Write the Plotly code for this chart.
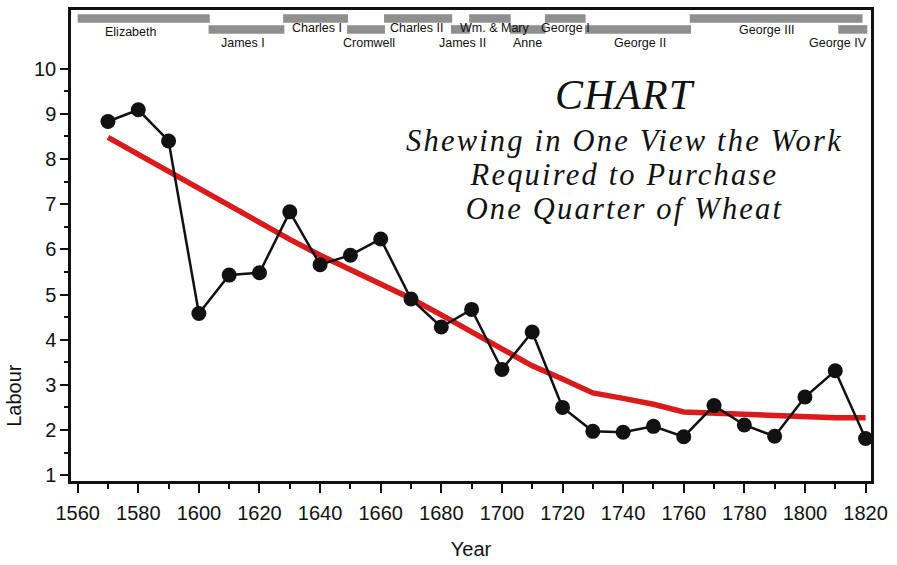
import plotly.graph_objects as go

# ---- data ----
years = [1570, 1580, 1590, 1600, 1610, 1620, 1630, 1640, 1650, 1660, 1670, 1680, 1690,
         1700, 1710, 1720, 1730, 1740, 1750, 1760, 1770, 1780, 1790, 1800, 1810, 1820]
labour = [8.83, 9.09, 8.40, 4.58, 5.43, 5.48, 6.83, 5.66, 5.87, 6.23, 4.90, 4.28, 4.67,
          3.34, 4.17, 2.50, 1.97, 1.95, 2.08, 1.85, 2.54, 2.11, 1.86, 2.73, 3.31, 1.81]
smooth = [8.48, 8.10, 7.73, 7.36, 6.98, 6.60, 6.22, 5.87, 5.55, 5.22, 4.91, 4.55, 4.18,
          3.78, 3.42, 3.13, 2.82, 2.70, 2.57, 2.40, 2.37, 2.33, 2.30, 2.28, 2.27, 2.27]

monarchs = ["Elizabeth", "James I", "Charles I", "Cromwell", "Charles II", "James II",
            "Wm. & Mary", "Anne", "George I", "George II", "George III", "George IV"]
reign_start = [1560, 1603.2, 1627.8, 1648.9, 1661.1, 1683.2, 1689.2, 1702.7, 1714.2, 1727.4, 1762.0, 1811.0]
reign_end = [1603.6, 1628.2, 1649.2, 1661.4, 1683.6, 1689.4, 1702.9, 1714.4, 1727.6, 1762.4, 1819.0, 1820.6]
bar_row = [11.11, 10.87, 11.11, 10.87, 11.11, 10.87, 11.11, 10.87, 11.11, 10.87, 11.11, 10.87]
label_x = [1577.3, 1614.6, 1639.0, 1656.0, 1672.0, 1687.0, 1697.6, 1708.6, 1721.0, 1745.7, 1787.5, 1811.0]
label_y = [10.82, 10.58, 10.91, 10.58, 10.91, 10.58, 10.91, 10.58, 10.91, 10.58, 10.85, 10.58]

chart_title = "CHART"
subtitle_lines = ["Shewing in One View the Work", "Required to Purchase", "One Quarter of Wheat"]

x_ticks = list(range(1560, 1821, 20))
x_minor = list(range(1570, 1811, 20))
y_ticks = list(range(1, 11))
y_minor = [1.5, 2.5, 3.5, 4.5, 5.5, 6.5, 7.5, 8.5, 9.5]

fig = go.Figure()

# monarch reign bars
fig.add_trace(go.Bar(
    orientation="h",
    y=bar_row,
    base=reign_start,
    x=[e - s for s, e in zip(reign_start, reign_end)],
    width=0.19,
    marker=dict(color="#8f8f8f", line=dict(width=0)),
    hoverinfo="skip",
    showlegend=False,
))

# smoothed trend
fig.add_trace(go.Scatter(
    x=years, y=smooth, mode="lines",
    line=dict(color="#db1b1b", width=5.5),
    showlegend=False,
))

# observed points
fig.add_trace(go.Scatter(
    x=years, y=labour, mode="lines+markers",
    line=dict(color="#111111", width=2.5),
    marker=dict(color="#111111", size=15),
    showlegend=False,
))

annotations = []
for name, lx, ly in zip(monarchs, label_x, label_y):
    annotations.append(dict(
        x=lx, y=ly, xref="x", yref="y", text=name, showarrow=False,
        xanchor="center", yanchor="middle",
        font=dict(family="Liberation Sans", size=12.5, color="#111111"),
    ))
annotations.append(dict(
    x=1740.5, y=9.42, xref="x", yref="y",
    text='<span style="letter-spacing:1px">%s</span>' % chart_title, showarrow=False,
    xanchor="center", yanchor="middle",
    font=dict(family="Liberation Serif", size=42, color="#111111", style="italic"),
))
# subtitle as one block: base size sets the tight line spacing, span sets glyph size
annotations.append(dict(
    x=1740.5, y=7.65, xref="x", yref="y",
    text="<br>".join('<span style="font-size:30.5px;letter-spacing:2.2px">%s</span>' % s
                     for s in subtitle_lines),
    showarrow=False, xanchor="center", yanchor="middle", align="center",
    font=dict(family="Liberation Serif", size=26.3, color="#111111", style="italic"),
))
# y axis title (placed low, as in reference)
annotations.append(dict(
    x=-0.0706, y=0.182, xref="paper", yref="paper", text="Labour", showarrow=False,
    textangle=-90, xanchor="center", yanchor="middle",
    font=dict(family="Liberation Sans", size=20, color="#111111"),
))

fig.update_layout(
    width=897, height=565,
    margin=dict(l=71, r=26, t=7, b=80),
    paper_bgcolor="white", plot_bgcolor="white",
    barmode="overlay",
    annotations=annotations,
    font=dict(family="Liberation Sans", color="#111111"),
)

fig.update_xaxes(
    range=[1557.8, 1821.8],
    tickmode="array", tickvals=x_ticks,
    ticks="outside", ticklen=9, tickwidth=2, tickcolor="#111111",
    minor=dict(tickmode="array", tickvals=x_minor, ticks="outside", ticklen=5, tickwidth=2, tickcolor="#111111"),
    showline=True, linewidth=2.5, linecolor="#111111", mirror=True,
    showgrid=False, zeroline=False,
    ticklabelstandoff=3,
    tickfont=dict(family="Liberation Sans", size=20, color="#111111"),
    title=dict(text="Year", font=dict(family="Liberation Sans", size=20, color="#111111"), standoff=20),
)
fig.update_yaxes(
    range=[0.87, 11.3],
    tickmode="array", tickvals=y_ticks,
    ticks="outside", ticklen=8, tickwidth=2, tickcolor="#111111",
    minor=dict(tickmode="array", tickvals=y_minor, ticks="outside", ticklen=4, tickwidth=2, tickcolor="#111111"),
    showline=True, linewidth=2.5, linecolor="#111111", mirror=True,
    showgrid=False, zeroline=False,
    tickfont=dict(family="Liberation Sans", size=20, color="#111111"),
)

fig.write_html("out.html", config={"displayModeBar": False},
               post_script="document.body.style.margin='0px';")
